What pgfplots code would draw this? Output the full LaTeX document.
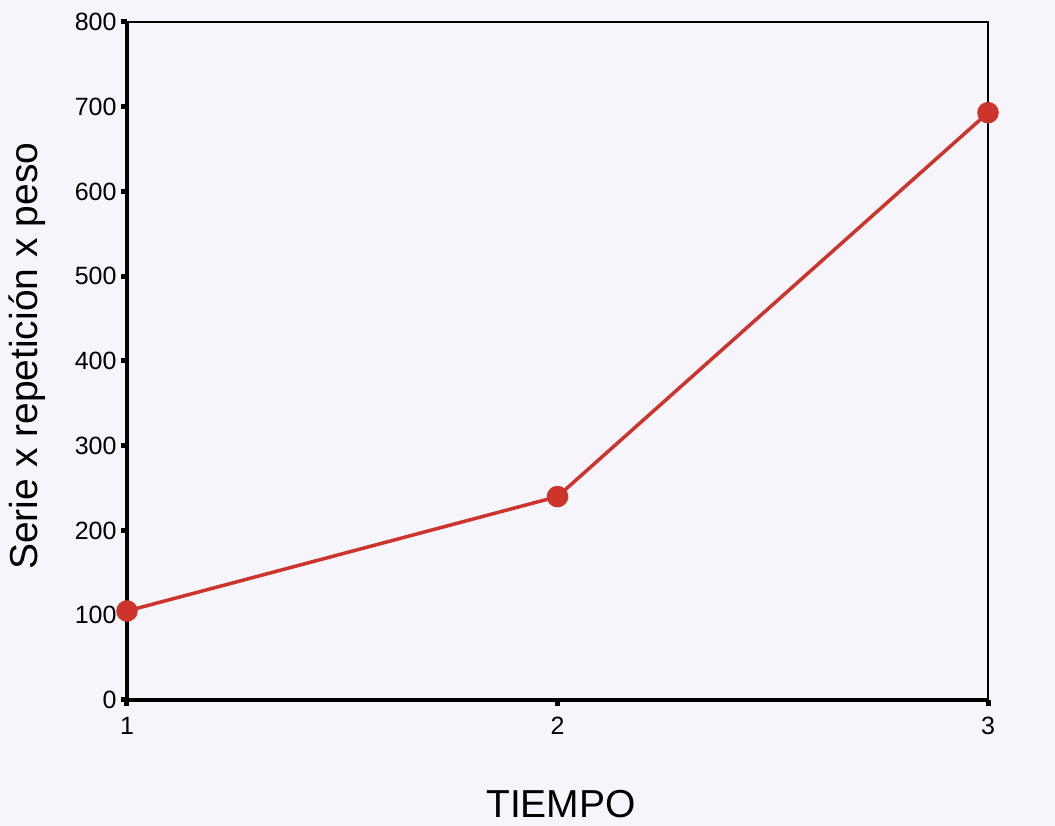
\documentclass[border=0pt]{standalone}
\usepackage{fontspec}
\setmainfont{Liberation Sans}
\usepackage{pgfplots}
\pgfplotsset{compat=1.18}
\definecolor{bgc}{RGB}{245,245,251}
\definecolor{redl}{RGB}{204,52,44}
\begin{document}
\begin{tikzpicture}[x=1pt,y=1pt]
\useasboundingbox[fill=bgc] (0,0) rectangle (1055,826);
\begin{axis}[
  at={(127pt,126pt)}, anchor=south west,
  scale only axis, width=861pt, height=678pt,
  xmin=1, xmax=3, ymin=0, ymax=800,
  xtick={1,2,3}, ytick={0,100,...,800},
  tick pos=left, tick align=outside,
  major tick length=6pt,
  every tick/.style={line width=5pt,black},
  axis line style={line width=2pt},
  clip=false,
  /pgf/number format/assume math mode=true,
  tick label style={font=\fontsize{25}{29}\selectfont},
  yticklabel style={xshift=-1pt},
  xticklabel style={yshift=-8pt},
  xlabel={TIEMPO}, ylabel={Serie x repetición x peso},
  label style={font=\fontsize{39}{44}\selectfont},
  xlabel style={at={(axis description cs:0.504,-0.153)}, anchor=center},
  ylabel style={at={(axis description cs:-0.116,0.507)}, anchor=center},
]
\addplot[redl, line width=3.5pt, mark=*, mark size=9pt, mark options={fill=redl, draw=redl}]
  coordinates {(1,105) (2,240) (3,693)};
\draw[line width=3.5pt] (axis cs:1,0) -- (axis cs:1,800);
\draw[line width=3.5pt] (axis cs:1,0) -- (axis cs:3,0);
\end{axis}
\end{tikzpicture}
\end{document}
